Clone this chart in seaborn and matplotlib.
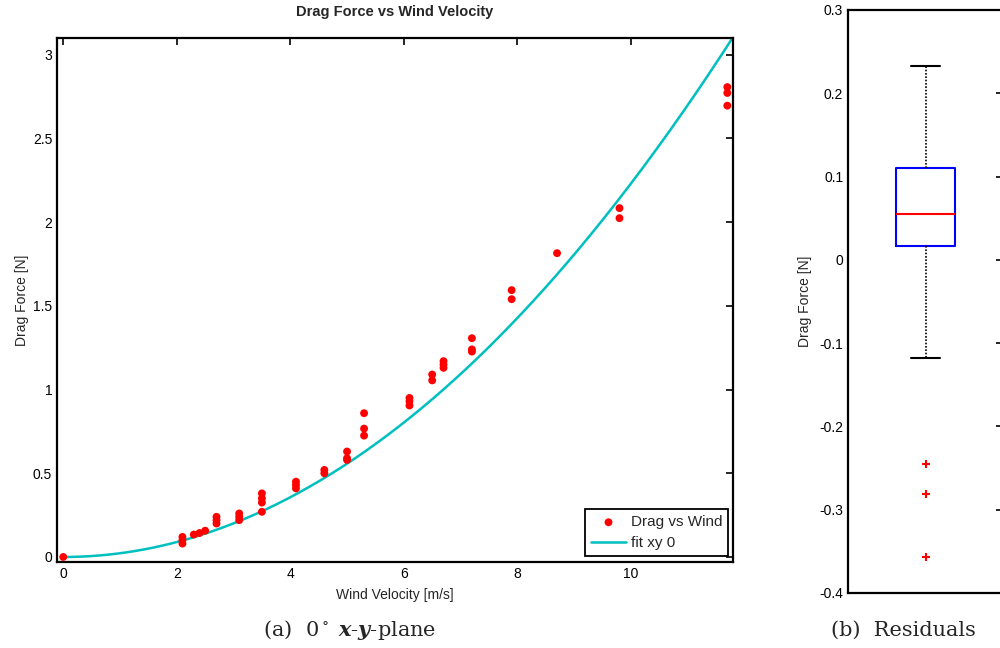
import numpy as np
import pandas as pd
import matplotlib
matplotlib.use("Agg")
import matplotlib.pyplot as plt
import matplotlib.ticker as mtick
import seaborn as sns

# Measured data: wind velocity [m/s] and drag force [N]
wind = [0.0, 2.1, 2.1, 2.1, 2.3, 2.4, 2.5, 2.7, 2.7, 2.7,
        3.1, 3.1, 3.1, 3.5, 3.5, 3.5, 3.5, 4.1, 4.1, 4.1,
        4.6, 4.6, 5.0, 5.0, 5.0, 5.3, 5.3, 5.3, 6.1, 6.1, 6.1,
        6.5, 6.5, 6.7, 6.7, 6.7, 7.2, 7.2, 7.2, 7.9, 7.9, 8.7,
        9.8, 9.8, 11.7, 11.7, 11.7]
drag = [0.0, 0.08, 0.10, 0.12, 0.134, 0.143, 0.157, 0.20, 0.22, 0.24,
        0.22, 0.24, 0.26, 0.27, 0.325, 0.35, 0.38, 0.41, 0.43, 0.45,
        0.50, 0.52, 0.58, 0.59, 0.63, 0.725, 0.767, 0.859, 0.905, 0.93, 0.95,
        1.055, 1.09, 1.13, 1.15, 1.17, 1.227, 1.24, 1.307, 1.54, 1.594, 1.815,
        2.024, 2.084, 2.696, 2.772, 2.807]

# quadratic fit (drag = a * v^2)
fit_a = 0.0223
fit_xmax = 11.8

df = pd.DataFrame({'wind': wind, 'drag': drag})
df['resid'] = df['drag'] - fit_a * df['wind'] ** 2
fit_v = np.linspace(0, fit_xmax, 300)
fit_df = pd.DataFrame({'wind': fit_v, 'drag': fit_a * fit_v ** 2})

sns.set_style('white')
plt.rcParams['font.family'] = ['Liberation Sans', 'DejaVu Sans']
plt.rcParams['mathtext.fontset'] = 'dejavuserif'

fig = plt.figure(figsize=(10, 6.48), dpi=100)
ax1 = fig.add_axes([0.057, 0.1327, 0.676, 0.8086])
ax2 = fig.add_axes([0.848, 0.0849, 0.155, 0.8997])

# Left: drag force vs wind velocity
sns.scatterplot(data=df, x='wind', y='drag', ax=ax1, color='#ff0000', s=32,
                edgecolor='none', label='Drag vs Wind', zorder=3)
sns.lineplot(data=fit_df, x='wind', y='drag', ax=ax1, color='#00bfbf', lw=1.8,
             label='fit xy 0', zorder=2)
ax1.set_xlim(-0.11, 11.8)
ax1.set_ylim(-0.03, 3.1)
ax1.set_xticks(np.arange(0, 11, 2))
ax1.set_yticks(np.arange(0, 3.01, 0.5))
ax1.yaxis.set_major_formatter(mtick.FormatStrFormatter('%g'))
ax1.set_title('Drag Force vs Wind Velocity', fontsize=10.5, fontweight='bold', pad=16)
ax1.set_xlabel('Wind Velocity [m/s]', fontsize=10, labelpad=5)
ax1.set_ylabel('Drag Force [N]', fontsize=10, labelpad=3)
leg = ax1.legend(loc='lower right', bbox_to_anchor=(0.993, 0.011), borderaxespad=0,
                 fancybox=False, framealpha=1, edgecolor='black', fontsize=11,
                 handlelength=2.3, borderpad=0.4, labelspacing=0.45, handletextpad=0.3)
leg.get_frame().set_linewidth(1.3)

# Right: residual box plot
sns.boxplot(y=df['resid'], ax=ax2, width=0.38, fill=False, color='blue',
            saturation=1, linewidth=1.5, whis=1.5,
            boxprops=dict(color='blue', linewidth=1.5),
            medianprops=dict(color='red', linewidth=1.5),
            whiskerprops=dict(color='black', linestyle=(0, (1, 1)), linewidth=1.2),
            capprops=dict(color='black', linewidth=1.5),
            flierprops=dict(marker='+', markeredgecolor='red', markersize=6,
                            markeredgewidth=1.5))
ax2.set_xlim(-0.5, 0.5)
ax2.set_ylim(-0.4, 0.3)
ax2.set_yticks(np.arange(-0.4, 0.31, 0.1))
ax2.yaxis.set_major_formatter(mtick.FuncFormatter(lambda v, p: '%g' % (round(v, 2) + 0.0)))
ax2.set_xticks([])
ax2.set_ylabel('Drag Force [N]', fontsize=10, labelpad=5.5)

for ax in (ax1, ax2):
    for sp in ax.spines.values():
        sp.set_visible(True)
        sp.set_color('black')
        sp.set_linewidth(1.6)
    ax.tick_params(direction='in', top=True, right=True, length=5, width=1.2,
                   labelsize=10, colors='black')
ax2.tick_params(axis='x', top=False, bottom=False)

# captions
fig.text(0.35, 0.028, r'(a)  0$^\circ$ $\mathbfit{x}$-$\mathbfit{y}$-plane',
         ha='center', va='center', fontsize=15, family='DejaVu Serif')
fig.text(0.903, 0.028, '(b)  Residuals', ha='center', va='center',
         fontsize=15, family='DejaVu Serif')

fig.savefig('out.png', dpi=100)
